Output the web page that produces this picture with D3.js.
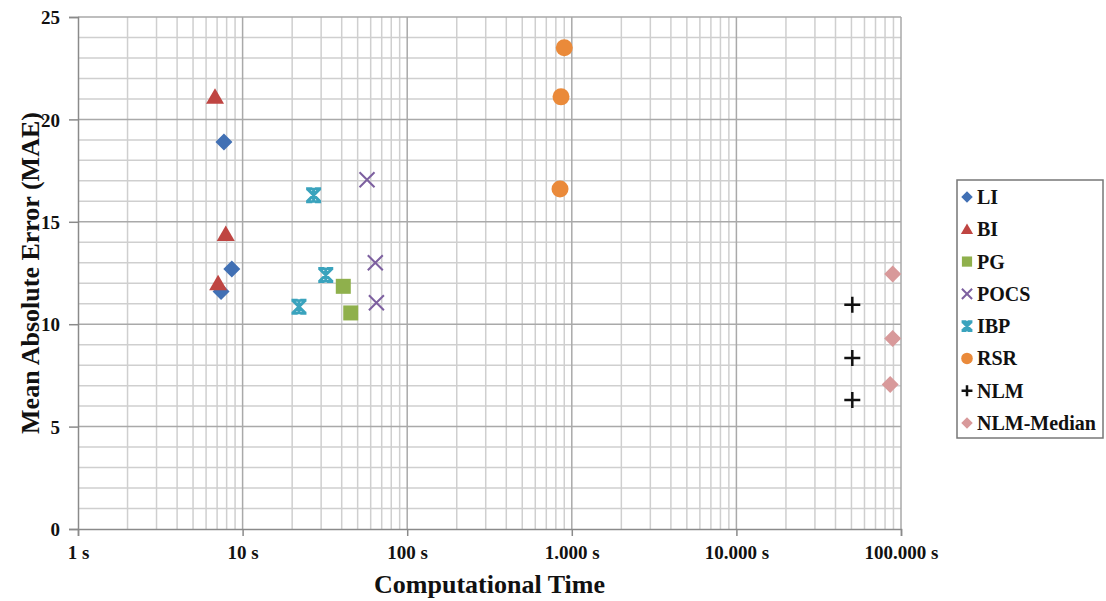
<!DOCTYPE html>
<html>
<head>
<meta charset="utf-8">
<script src="https://cdn.jsdelivr.net/npm/d3@7"></script>
<style>
  html, body { margin: 0; padding: 0; background: #fff; }
  #chart { width: 1106px; height: 601px; }
  text { font-family: "Liberation Serif", "Times New Roman", serif; font-weight: bold; fill: #111; }
</style>
</head>
<body>
<div id="chart"></div>
<script>
// series values (time in seconds, MAE)
const liTime = [7.7, 8.6, 7.4];
const liMae = [18.9, 12.7, 11.6];
const biTime = [6.8, 7.9, 7.1];
const biMae = [21.1, 14.4, 12.0];
const pgTime = [40.9, 45.4];
const pgMae = [11.85, 10.55];
const pocsTime = [57, 64, 65];
const pocsMae = [17.05, 13.0, 11.05];
const ibpTime = [27, 32, 22];
const ibpMae = [16.3, 12.4, 10.85];
const rsrTime = [900, 860, 848];
const rsrMae = [23.5, 21.1, 16.6];
const nlmTime = [50600, 50600, 50600];
const nlmMae = [10.95, 8.35, 6.3];
const nlmMedTime = [89000, 89000, 86000];
const nlmMedMae = [12.45, 9.3, 7.05];

const seriesNames = ["LI", "BI", "PG", "POCS", "IBP", "RSR", "NLM", "NLM-Median"];
const xTickValues = [1, 10, 100, 1000, 10000, 100000];
const xTickLabels = ["1 s", "10 s", "100 s", "1.000 s", "10.000 s", "100.000 s"];
const yTickValues = [0, 5, 10, 15, 20, 25];

const width = 1106, height = 601;
const margin = { left: 78, right: 205, top: 17, bottom: 72 };

const x = d3.scaleLog().domain([1, 100000]).range([margin.left, width - margin.right]);
const y = d3.scaleLinear().domain([0, 25]).range([height - margin.bottom, margin.top]);

const series = [
    { name: "LI", shape: "diamond", color: "#4170b4", t: liTime, v: liMae },
    { name: "BI", shape: "triangle", color: "#bf4542", t: biTime, v: biMae },
    { name: "PG", shape: "square", color: "#8fb04c", t: pgTime, v: pgMae },
    { name: "POCS", shape: "x", color: "#7d60a0", t: pocsTime, v: pocsMae },
    { name: "IBP", shape: "star", color: "#3aa3bd", t: ibpTime, v: ibpMae },
    { name: "RSR", shape: "circle", color: "#ea8a3a", t: rsrTime, v: rsrMae },
    { name: "NLM", shape: "plus", color: "#111111", t: nlmTime, v: nlmMae },
    { name: "NLM-Median", shape: "diamond", color: "#d8999a", t: nlmMedTime, v: nlmMedMae }
];

const svg = d3.create("svg")
    .attr("width", width)
    .attr("height", height)
    .attr("viewBox", [0, 0, width, height]);

// grid: minor then major
const xMinor = [];
for (let e = 0; e < 5; e++) for (let m = 2; m <= 9; m++) xMinor.push(m * Math.pow(10, e));
const yMinor = d3.range(0, 26).filter(d => d % 5 !== 0);

const grid = svg.append("g");
grid.selectAll(".vmin").data(xMinor).join("line")
    .attr("x1", d => x(d)).attr("x2", d => x(d))
    .attr("y1", y(0)).attr("y2", y(25))
    .attr("stroke", "#cfcfcf").attr("stroke-width", 1.5);
grid.selectAll(".hmin").data(yMinor).join("line")
    .attr("x1", x(1)).attr("x2", x(100000))
    .attr("y1", d => y(d)).attr("y2", d => y(d))
    .attr("stroke", "#cfcfcf").attr("stroke-width", 1.5);
grid.selectAll(".vmaj").data(xTickValues.slice(1)).join("line")
    .attr("x1", d => x(d)).attr("x2", d => x(d))
    .attr("y1", y(0)).attr("y2", y(25))
    .attr("stroke", "#a9a9a9").attr("stroke-width", 1.5);
grid.selectAll(".hmaj").data(yTickValues.slice(1)).join("line")
    .attr("x1", x(1)).attr("x2", x(100000))
    .attr("y1", d => y(d)).attr("y2", d => y(d))
    .attr("stroke", "#a9a9a9").attr("stroke-width", 1.5);

// axes
const xAxis = svg.append("g")
    .attr("transform", `translate(0,${y(0)})`)
    .call(d3.axisBottom(x).tickValues(xTickValues).tickFormat((d, i) => xTickLabels[i]).tickSize(7).tickPadding(10));
const yAxis = svg.append("g")
    .attr("transform", `translate(${x(1)},0)`)
    .call(d3.axisLeft(y).tickValues(yTickValues).tickSize(9).tickPadding(9));
[xAxis, yAxis].forEach(a => {
    a.select(".domain").attr("stroke", "#8a8a8a").attr("stroke-width", 1.5);
    a.selectAll(".tick line").attr("stroke", "#8a8a8a").attr("stroke-width", 1.5);
    a.selectAll(".tick text").style("font-size", "19px").style("font-family", "'Liberation Serif', serif").style("font-weight", "bold").attr("fill", "#111");
});
yAxis.selectAll(".tick text").attr("dy", "0.35em");

// axis titles
svg.append("text")
    .attr("x", (x(1) + x(100000)) / 2).attr("y", 593)
    .attr("text-anchor", "middle")
    .style("font-size", "26px")
    .text("Computational Time");
svg.append("text")
    .attr("transform", `translate(30,${(y(0) + y(25)) / 2}) rotate(-90)`)
    .attr("text-anchor", "middle")
    .attr("dy", "0.35em")
    .style("font-size", "26px")
    .text("Mean Absolute Error (MAE)");

// marker drawing
function drawMarker(g, shape, color, s) {
    if (shape === "diamond") {
        g.append("path").attr("d", `M0,${-8.5 * s}L${8.5 * s},0L0,${8.5 * s}L${-8.5 * s},0Z`).attr("fill", color);
    } else if (shape === "triangle") {
        g.append("path").attr("d", `M0,${-8.5 * s}L${9 * s},${7 * s}L${-9 * s},${7 * s}Z`).attr("fill", color);
    } else if (shape === "square") {
        g.append("rect").attr("x", -7.5 * s).attr("y", -7.5 * s).attr("width", 15 * s).attr("height", 15 * s).attr("fill", color);
    } else if (shape === "circle") {
        g.append("circle").attr("r", 8.5 * s).attr("fill", color);
    } else if (shape === "x") {
        const r = 7.5 * s;
        g.append("path").attr("d", `M${-r},${-r}L${r},${r}M${-r},${r}L${r},${-r}`)
            .attr("stroke", color).attr("stroke-width", 2).attr("fill", "none");
    } else if (shape === "star") {
        const r = 6.5 * s;
        g.append("path").attr("d", `M${-r},${-r}L${r},${r}M${-r},${r}L${r},${-r}M0,${-r - 1}L0,${r + 1}M${-r - 1},${-r}L${-r * 0.2},${-r}M${r * 0.2},${-r}L${r + 1},${-r}M${-r - 1},${r}L${-r * 0.2},${r}M${r * 0.2},${r}L${r + 1},${r}`)
            .attr("stroke", color).attr("stroke-width", 3).attr("fill", "none");
    } else if (shape === "plus") {
        const r = 8 * s;
        g.append("path").attr("d", `M${-r},0L${r},0M0,${-r}L0,${r}`)
            .attr("stroke", color).attr("stroke-width", 2.5).attr("fill", "none");
    }
}

const plot = svg.append("g");
series.forEach(sr => {
    const pts = sr.t.map((t, i) => ({ t: t, v: sr.v[i] }));
    plot.append("g").selectAll("g")
        .data(pts)
        .join("g")
        .attr("transform", d => `translate(${x(d.t)},${y(d.v)})`)
        .each(function () { drawMarker(d3.select(this), sr.shape, sr.color, 1); });
});

// legend
const legend = svg.append("g");
legend.append("rect")
    .attr("x", 957).attr("y", 180).attr("width", 146).attr("height", 258)
    .attr("fill", "#fff").attr("stroke", "#777").attr("stroke-width", 1.5);
const legY = d3.scalePoint().domain(seriesNames).range([197, 423]);
series.forEach(sr => {
    const g = legend.append("g").attr("transform", `translate(967,${legY(sr.name)})`);
    drawMarker(g, sr.shape, sr.color, 0.68);
    legend.append("text")
        .attr("x", 977).attr("y", legY(sr.name))
        .attr("dy", "0.35em")
        .style("font-size", "20px")
        .text(sr.name);
});

document.getElementById("chart").appendChild(svg.node());
</script>
</body>
</html>
